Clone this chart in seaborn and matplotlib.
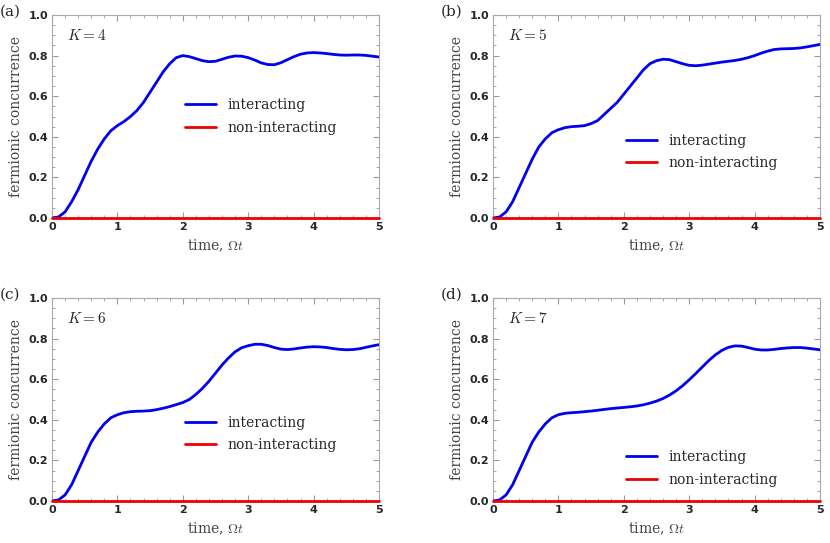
import numpy as np
import pandas as pd
import matplotlib
matplotlib.use("Agg")
import matplotlib.pyplot as plt
import seaborn as sns
from matplotlib.ticker import MultipleLocator

plt.rcParams["mathtext.fontset"] = "cm"
sns.set_style("ticks")

t = [round(0.1 * i, 1) for i in range(51)]
k4 = [0, .005, .03, .08, .14, .21, .28, .34, .39, .43, .455, .475, .50, .53, .57, .62, .67, .72, .76, .79, .80,
      .795, .785, .775, .77, .772, .782, .792, .798, .797, .79, .778, .764, .756, .755, .765, .78, .795, .807, .813,
      .815, .813, .81, .806, .803, .802, .803, .803, .801, .797, .793]
k5 = [0, .005, .03, .08, .15, .22, .29, .35, .39, .42, .435, .445, .45, .452, .455, .465, .48, .51, .54, .57, .61,
      .65, .69, .73, .76, .775, .782, .78, .77, .76, .752, .75, .753, .758, .763, .768, .772, .776, .782, .79,
      .80, .812, .822, .83, .833, .834, .835, .838, .843, .849, .855]
k6 = [0, .005, .03, .08, .15, .22, .29, .34, .38, .41, .425, .435, .44, .442, .443, .445, .45, .457, .465, .475, .485,
      .50, .525, .555, .59, .63, .67, .705, .735, .755, .765, .772, .772, .766, .756, .748, .746, .749, .754, .758,
      .76, .759, .756, .751, .747, .745, .746, .75, .757, .764, .77]
k7 = [0, .005, .03, .08, .15, .22, .29, .34, .38, .41, .425, .432, .435, .437, .44, .443, .447, .451, .455, .458, .461,
      .464, .468, .474, .482, .492, .505, .522, .543, .568, .597, .628, .66, .692, .72, .742, .757, .764, .763, .756,
      .748, .744, .744, .747, .751, .754, .756, .756, .753, .749, .745]
noninteracting = [0.0] * 51
panels = ["(a)", "(b)", "(c)", "(d)"]
Ks = [4, 5, 6, 7]
series = [k4, k5, k6, k7]
legend_y = [0.50, 0.325, 0.33, 0.16]

fig = plt.figure(figsize=(8.3, 5.43), dpi=100)
W, H = 830, 543
boxes = [(52, 15), (493, 15), (52, 298), (493, 298)]
for i in range(4):
    x0, y0 = boxes[i]
    ax = fig.add_axes([x0 / W, 1 - (y0 + 203) / H, 327 / W, 203 / H])
    df = pd.DataFrame({"t": t, "inter": series[i], "non": noninteracting})
    sns.lineplot(data=df, x="t", y="inter", ax=ax, color="#0000ee", lw=2, label="interacting", zorder=10)
    sns.lineplot(data=df, x="t", y="non", ax=ax, color="#ee0000", lw=2, label="non-interacting",
                 clip_on=False, zorder=10)
    ax.set_xlim(0, 5); ax.set_ylim(0, 1)
    ax.xaxis.set_minor_locator(MultipleLocator(0.2))
    ax.yaxis.set_minor_locator(MultipleLocator(0.05))
    ax.set_xticks([0, 1, 2, 3, 4, 5]); ax.set_xticklabels(["0", "1", "2", "3", "4", "5"])
    ax.set_yticks([0, .2, .4, .6, .8, 1.0]); ax.set_yticklabels(["0.0", "0.2", "0.4", "0.6", "0.8", "1.0"])
    for lab in ax.get_xticklabels() + ax.get_yticklabels():
        lab.set_fontweight("bold"); lab.set_fontsize(8)
    ax.tick_params(which="both", direction="in", top=True, right=True, color="#999999", pad=3)
    ax.tick_params(which="major", length=4); ax.tick_params(which="minor", length=2)
    for s in ax.spines.values():
        s.set_color("#aaaaaa"); s.set_linewidth(0.8); s.set_zorder(1)
    ax.set_xlabel(r"time, $\Omega t$", family="DejaVu Serif", fontsize=10, color="#444444")
    ax.set_ylabel("fermionic concurrence", family="DejaVu Serif", fontsize=10, color="#444444")
    ax.text(0.045, 0.9, rf"$K = {Ks[i]}$", transform=ax.transAxes, fontsize=11, va="center")
    ax.legend(loc="center left", bbox_to_anchor=(0.37, legend_y[i]), frameon=False,
              prop={"family": "DejaVu Serif", "size": 10}, handlelength=2.2, labelspacing=0.6)
    fig.text((x0 - 52) / W, 1 - (y0 - 3) / H, panels[i], family="DejaVu Serif", fontsize=11, va="center")

fig.savefig("out.png", dpi=100)
